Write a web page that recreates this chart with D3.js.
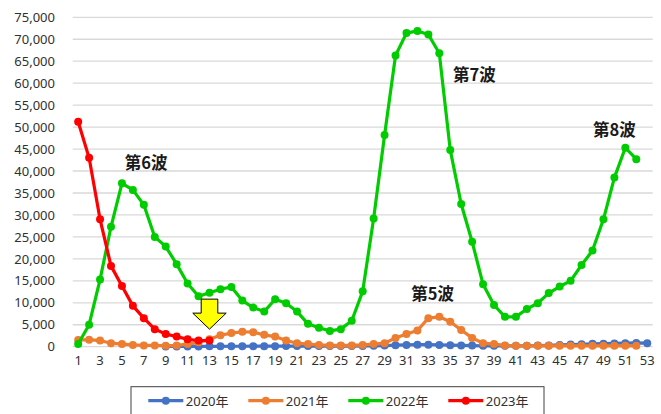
<!DOCTYPE html>
<html>
<head>
<meta charset="utf-8">
<script src="https://cdn.jsdelivr.net/npm/d3@7"></script>
<style>
  html, body { margin: 0; padding: 0; background: #fff; }
  svg { display: block; }
</style>
</head>
<body>
<svg id="chart" width="661" height="414"></svg>
<script>
// Weekly counts per year (week 1 .. 53)
const weeks = d3.range(1, 54);
const yTicks = d3.range(0, 75001, 5000);

// 2020: series begins at week 9
const y2020 = [null, null, null, null, null, null, null, null,
  50, 50, 60, 60, 80, 80, 100, 100, 120, 120, 120, 150,
  150, 150, 150, 150, 150, 150, 180, 200, 250, 350,
  400, 450, 450, 400, 350, 300, 250, 200, 200, 200,
  200, 200, 250, 300, 400, 500, 550, 650, 700, 750,
  800, 850, 800];
const y2021 = [1500, 1600, 1400, 800, 600, 400, 300, 300, 200, 300,
  600, 1000, 1700, 2600, 3100, 3400, 3300, 2700, 2300, 1400,
  800, 600, 400, 300, 300, 300, 400, 600, 800, 2000,
  2900, 3700, 6500, 6800, 5700, 3800, 2000, 800, 600, 300,
  200, 200, 200, 200, 200, 200, 200, 200, 200, 200,
  200, 200];
const y2022 = [600, 5000, 15300, 27300, 37200, 35700, 32300, 25000, 22800, 18800,
  14400, 11500, 12300, 13100, 13600, 10500, 8900, 8000, 10800, 9900,
  8000, 5200, 4300, 3600, 4000, 5900, 12600, 29200, 48200, 66300,
  71400, 71900, 71100, 66800, 44800, 32500, 23900, 14200, 9500, 6800,
  6800, 8600, 9900, 12200, 13700, 15000, 18600, 21900, 29000, 38500,
  45300, 42700];
const y2023 = [51200, 43000, 29000, 18400, 13800, 9300, 6500, 4000, 2900, 2300,
  1700, 1400, 1400];

const seriesNames = ["2020年", "2021年", "2022年", "2023年"];
const seriesValues = [y2020, y2021, y2022, y2023];
const seriesColors = ["#4472C4", "#ED7D31", "#00CC00", "#FF0000"];

// Wave annotations: [label, week, value]
const waveLabels = [
  ["第6波", 7.2, 42000],
  ["第7波", 37.2, 62000],
  ["第8波", 50.0, 49600],
  ["第5波", 33.4, 12200]
];
const arrowWeek = 13;

const svg = d3.select("#chart");
const x = d3.scaleBand().domain(weeks).range([72.7, 652.7]);
const cx = w => x(w) + x.bandwidth() / 2;
const xLin = d3.scaleLinear().domain([1, 53]).range([cx(1), cx(53)]);
const y = d3.scaleLinear().domain([0, 75000]).range([346.7, 17.3]);

// Horizontal grid lines
svg.append("g")
  .selectAll("line")
  .data(yTicks)
  .join("line")
  .attr("x1", 72.7).attr("x2", 652.7)
  .attr("y1", d => y(d)).attr("y2", d => y(d))
  .attr("stroke", "#d9d9d9").attr("stroke-width", 1.3);

// Y axis labels
const yAxis = d3.axisLeft(y).tickValues(yTicks).tickSize(0).tickPadding(0)
  .tickFormat(d3.format(","));
svg.append("g")
  .attr("transform", "translate(55,0)")
  .call(yAxis)
  .call(g => g.select(".domain").remove())
  .call(g => g.selectAll("text")
    .attr("font-family", "'Noto Sans', sans-serif")
    .attr("font-size", 13).attr("fill", "#303030"));

// X axis labels (odd weeks)
const xAxis = d3.axisBottom(x).tickValues(weeks.filter(w => w % 2 === 1))
  .tickSize(0).tickPadding(0);
svg.append("g")
  .attr("transform", "translate(0,356)")
  .call(xAxis)
  .call(g => g.select(".domain").remove())
  .call(g => g.selectAll("text")
    .attr("font-family", "'Noto Sans', sans-serif")
    .attr("font-size", 13).attr("fill", "#303030"));

// Series lines and markers
seriesValues.forEach((vals, i) => {
  const pts = vals.map((v, k) => ({ w: k + 1, v })).filter(d => d.v !== null);
  const g = svg.append("g");
  g.append("path")
    .datum(pts)
    .attr("fill", "none")
    .attr("stroke", seriesColors[i])
    .attr("stroke-width", 3.2)
    .attr("stroke-linejoin", "round")
    .attr("d", d3.line().x(d => cx(d.w)).y(d => y(d.v)));
  g.selectAll("circle")
    .data(pts)
    .join("circle")
    .attr("cx", d => cx(d.w)).attr("cy", d => y(d.v))
    .attr("r", 4)
    .attr("fill", seriesColors[i]);
});

// Wave labels
svg.append("g")
  .selectAll("text")
  .data(waveLabels)
  .join("text")
  .attr("x", d => xLin(d[1])).attr("y", d => y(d[2]))
  .attr("text-anchor", "middle")
  .attr("dominant-baseline", "central")
  .attr("font-family", "'Noto Sans CJK JP', sans-serif")
  .attr("font-size", 16.5).attr("font-weight", "bold")
  .attr("fill", "#1a1a1a")
  .text(d => d[0]);

// Down arrow marking week 13
const ax = cx(arrowWeek);
const tipY = y(4000);
const arrowPts = [
  [ax - 8.3, tipY - 30], [ax + 8.3, tipY - 30], [ax + 8.3, tipY - 16],
  [ax + 16.7, tipY - 16], [ax, tipY], [ax - 16.7, tipY - 16], [ax - 8.3, tipY - 16]
];
svg.append("path")
  .attr("d", d3.line()(arrowPts) + "Z")
  .attr("fill", "#FFFF00")
  .attr("stroke", "#000").attr("stroke-width", 1);

// Legend
const lg = svg.append("g");
lg.append("rect")
  .attr("x", 131).attr("y", 386.7).attr("width", 413).attr("height", 40)
  .attr("fill", "#fff").attr("stroke", "#404040").attr("stroke-width", 1);
seriesNames.forEach((name, i) => {
  const x0 = 148.3 + i * 100;
  const item = lg.append("g");
  item.append("line")
    .attr("x1", x0).attr("x2", x0 + 35).attr("y1", 400.7).attr("y2", 400.7)
    .attr("stroke", seriesColors[i]).attr("stroke-width", 3.2);
  item.append("circle")
    .attr("cx", x0 + 17.5).attr("cy", 400.7).attr("r", 4)
    .attr("fill", seriesColors[i]);
  item.append("text")
    .attr("x", x0 + 37.5).attr("y", 400.7)
    .attr("dominant-baseline", "central")
    .attr("font-family", "'Noto Sans', 'Noto Sans CJK JP', sans-serif")
    .attr("font-size", 13).attr("fill", "#303030")
    .text(name);
});
</script>
</body>
</html>
